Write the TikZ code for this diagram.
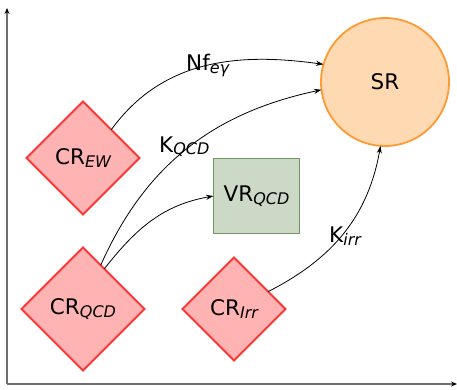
\documentclass[tikz,border=0pt]{standalone}
\usepackage{fontspec}
\setmainfont{DejaVu Sans}
\usetikzlibrary{shapes.geometric,arrows.meta}
\newcommand\subx[1]{\raisebox{-3pt}{\fontsize{16}{16}\selectfont\itshape #1}}
\definecolor{crfill}{RGB}{255,179,179}
\definecolor{crline}{RGB}{250,55,55}
\definecolor{vrfill}{RGB}{204,217,199}
\definecolor{vrline}{RGB}{110,150,95}
\definecolor{srfill}{RGB}{255,217,178}
\definecolor{srline}{RGB}{255,153,51}
\definecolor{axisc}{RGB}{110,110,110}
\begin{document}
\begin{tikzpicture}[x=1pt,y=1pt,
  mainfont/.style={font=\fontsize{21.5}{24}\selectfont},
  cr/.style={diamond, aspect=1, draw=crline, fill=crfill, line width=1.8pt, inner sep=0pt, outer sep=0pt, mainfont},
  vrbox/.style={rectangle, draw=vrline, fill=vrfill, line width=1.8pt, minimum width=86pt, minimum height=75pt, inner sep=0pt, outer sep=0pt, mainfont},
  srcirc/.style={circle, draw=srline, fill=srfill, line width=1.8pt, minimum size=128pt, inner sep=0pt, outer sep=0pt, mainfont},
  conn/.style={-{Stealth[length=7.5pt,width=5pt]}, line width=0.8pt, black},
  axis/.style={-{Stealth[length=6pt,width=5pt,color=black]}, line width=1.3pt, axisc},
  lbl/.style={anchor=base west, inner sep=0pt, mainfont}]
\useasboundingbox (0,0) rectangle (457,389);
% axes
\coordinate (o) at (7,5);
\coordinate (ytop) at (7,381);
\coordinate (xend) at (457,5);
\draw[axis] (o) -- (ytop);
\draw[axis] (o) -- (xend);
% nodes
\node[cr, minimum size=113pt] (crew) at (83,231) {CR\subx{EW}};
\node[cr, minimum size=123pt] (crqcd) at (83,80) {CR\subx{QCD}};
\node[cr, minimum size=103pt] (crirr) at (234,80) {CR\subx{Irr}};
\node[vrbox] (vr) at (256.5,193) {VR\subx{QCD}};
\node[srcirc] (sr) at (385,307) {SR};
% connectors
\draw[conn] (crew.45) to[out=54,in=172] (sr.164);
\draw[conn] (crqcd.68) to[out=66,in=192] (sr.187);
\draw[conn] (crqcd.62) to[out=52,in=190] (vr.west);
\draw[conn] (crirr.27) to[out=27,in=260] (sr.266);
% labels
\node[lbl] (lnf) at (186,318) {Nf\subx{eγ}};
\node[lbl] (lkqcd) at (159,237) {K\subx{QCD}};
\node[lbl] (lkirr) at (329,147) {K\subx{irr}};
\end{tikzpicture}
\end{document}
